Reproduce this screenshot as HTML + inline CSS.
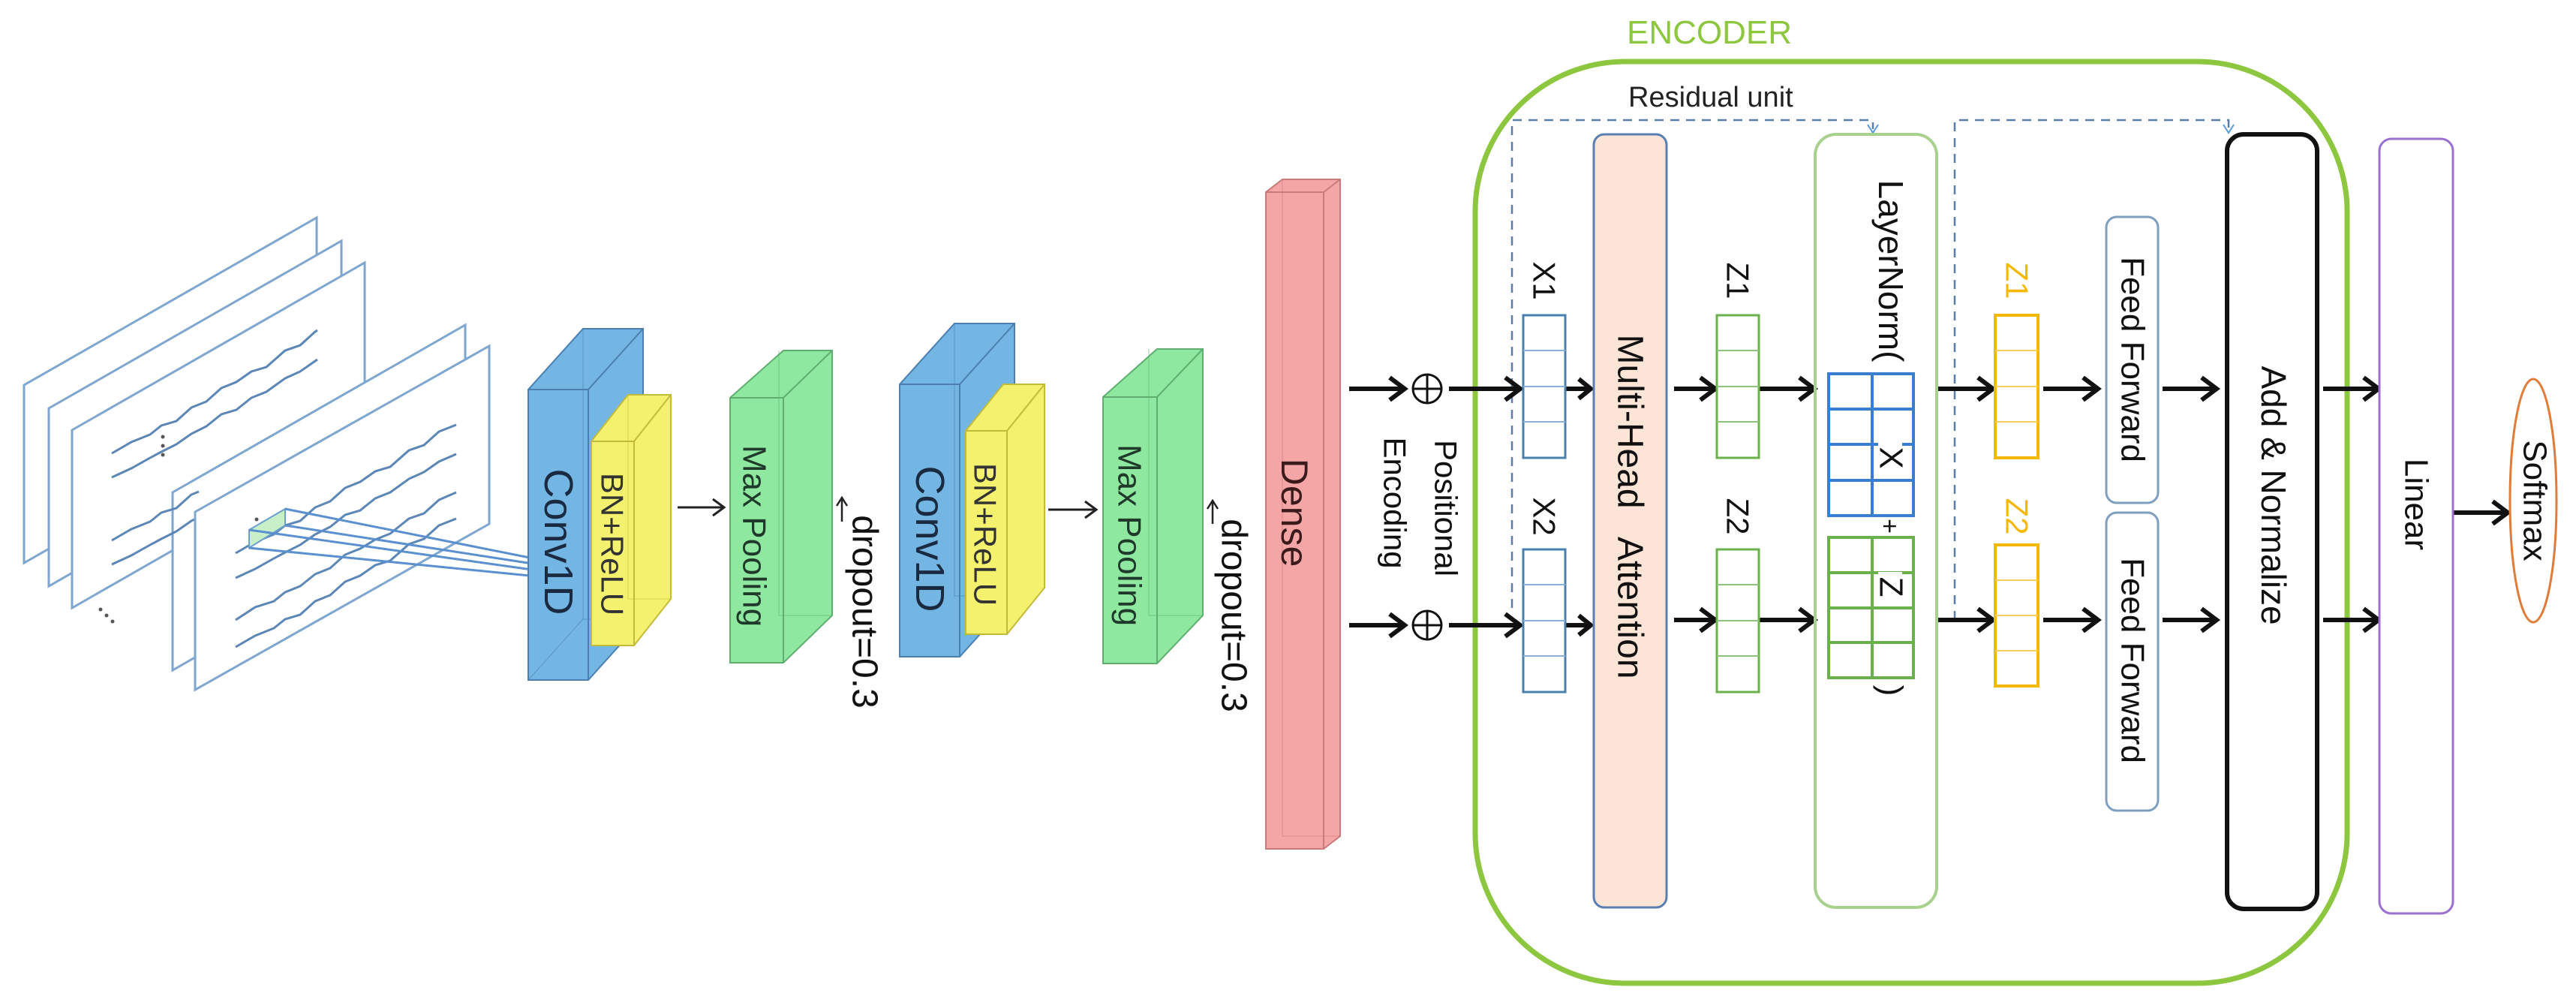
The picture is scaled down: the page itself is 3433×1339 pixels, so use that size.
<!DOCTYPE html>
<html><head><meta charset="utf-8"><style>
html,body{margin:0;padding:0;background:#fff}
svg{display:block}
text{font-family:"Liberation Sans",sans-serif}
</style></head><body>
<svg width="3433" height="1339" viewBox="0 0 3433 1339" xmlns="http://www.w3.org/2000/svg">
<defs>
<marker id="ah" markerWidth="10" markerHeight="10" refX="9" refY="5" orient="auto" markerUnits="userSpaceOnUse" viewBox="0 0 10 10">
</marker>
</defs>

<!-- Input planes -->
<g stroke="#7ea6cf" stroke-width="3" fill="#fff">
<polygon points="32,513 422,290 422,527 32,750"/>
<polygon points="65,544 455,321 455,558 65,781"/>
<polygon points="96,573 486,350 486,587 96,810"/>
</g>
<g stroke="#5b86b5" stroke-width="3" fill="none">
<path d="M149,604 l26,-15 25,-10 15,-12 20,-6 20,-18 20,-8 20,-18 20,-8 20,-14 20,-6 25,-22 20,-7 20,-18 3,-2"/>
<path d="M149,636 l26,-12 25,-14 15,-8 20,-10 20,-14 20,-10 20,-16 20,-6 20,-16 20,-8 25,-18 20,-9 20,-14 3,-2"/>
</g>
<g fill="#555"><circle cx="217" cy="582" r="2.5"/><circle cx="217" cy="594" r="2.5"/><circle cx="217" cy="606" r="2.5"/></g>
<g stroke="#7ea6cf" stroke-width="3" fill="#fff">
<polygon points="230,656 620,433 620,670 230,893"/>
</g>
<g stroke="#5b86b5" stroke-width="3" fill="none">
<path d="M149,720 l26,-15 25,-10 15,-12 20,-6 20,-18 10,-4"/>
<path d="M149,752 l26,-12 25,-14 15,-8 20,-10 20,-14 10,-5"/>
<path d="M262,700 l26,-15 25,-10 15,-12 20,-6 20,-18 20,-8 20,-18 20,-8 20,-14 20,-6 25,-22 20,-7 20,-18 23,-9"/>
</g>
<g fill="#555"><circle cx="134" cy="812" r="2.5"/><circle cx="142" cy="820" r="2.5"/><circle cx="150" cy="828" r="2.5"/></g>
<g stroke="#7ea6cf" stroke-width="3" fill="#fff">
<polygon points="260,682 652,461 652,698 260,919"/>
</g>
<g stroke="#5b86b5" stroke-width="3" fill="none">
<path d="M314,737 l26,-15 25,-10 15,-12 20,-6 20,-18 20,-8 20,-18 20,-8 20,-14 20,-6 25,-22 20,-7 20,-18 23,-9"/>
<path d="M314,770 l26,-12 25,-14 15,-8 20,-10 20,-14 20,-10 20,-16 20,-6 20,-16 20,-8 25,-18 20,-9 20,-14 23,-10"/>
<path d="M314,826 l26,-17 25,-8 15,-12 20,-8 20,-16 20,-8 20,-18 20,-8 20,-12 20,-8 25,-20 20,-7 20,-18 23,-10"/>
<path d="M314,862 l26,-15 25,-10 15,-12 20,-6 20,-18 20,-8 20,-18 20,-8 20,-14 20,-6 25,-22 20,-7 20,-18 23,-9"/>
</g>
<g fill="#555"><circle cx="342" cy="692" r="2.5"/><circle cx="342" cy="704" r="2.5"/><circle cx="342" cy="716" r="2.5"/></g>
<!-- receptive field -->
<polygon points="332,706 380,678 380,700 332,730" fill="#c8efc8" stroke="#6a9fd0" stroke-width="2"/>
<g stroke="#5a8fd0" stroke-width="3" fill="none">
<line x1="380" y1="678" x2="716" y2="745"/>
<line x1="380" y1="700" x2="716" y2="752"/>
<line x1="332" y1="706" x2="716" y2="760"/>
<line x1="332" y1="730" x2="716" y2="768"/>
</g>

<!-- Conv1D #1 -->
<g stroke="#4a7fb0" stroke-width="2">
<polygon points="704,519 777,438 857,438 857,825 784,906 704,906" fill="#74b6e3"/>
<polyline points="704,519 784,519 857,438" fill="none"/>
<line x1="784" y1="519" x2="784" y2="906"/>
<polyline points="777,438 777,825 857,825" fill="none" stroke-width="1" opacity=".6"/>
<line x1="704" y1="906" x2="777" y2="825" stroke-width="1" opacity=".6"/>
</g>
<g stroke="#c2bb3a" stroke-width="2">
<polygon points="788,588 837,526 894,526 894,798 845,860 788,860" fill="#f4f16e"/>
<polyline points="788,588 845,588 894,526" fill="none"/>
<line x1="845" y1="588" x2="845" y2="860"/>
<polyline points="837,526 837,798 894,798" fill="none" stroke-width="1" opacity=".6"/>
</g>
<text transform="translate(744,722) rotate(90)" text-anchor="middle" dominant-baseline="central" font-size="54" fill="#1a2a40">Conv1D</text>
<text transform="translate(816,725) rotate(90)" text-anchor="middle" dominant-baseline="central" font-size="42" fill="#333">BN+ReLU</text>
<g stroke="#222" stroke-width="3" fill="none"><line x1="903" y1="676" x2="964" y2="676"/><polyline points="950,665 965,676 950,687"/></g>

<!-- MaxPool #1 -->
<g stroke="#5fae70" stroke-width="2">
<polygon points="973,530 1044,467 1109,467 1109,820 1044,883 973,883" fill="#8fe8a0" transform="translate(0,0)"/>
<polyline points="973,530 1044,530 1109,467" fill="none"/>
<line x1="1044" y1="530" x2="1044" y2="883"/>
<polyline points="1038,467 1038,820 1109,820" fill="none" stroke-width="1" opacity=".6"/>
</g>
<text transform="translate(1005,714) rotate(90)" text-anchor="middle" dominant-baseline="central" font-size="44" fill="#1f3a2a">Max Pooling</text>
<g stroke="#222" stroke-width="2.5" fill="none"><line x1="1122" y1="695" x2="1122" y2="664"/><polyline points="1115,674 1122,663 1129,674"/></g>
<text transform="translate(1152,815) rotate(90)" text-anchor="middle" dominant-baseline="central" font-size="48" fill="#111">dropout=0.3</text>

<!-- Conv1D #2 -->
<g stroke="#4a7fb0" stroke-width="2">
<polygon points="1199,512 1272,431 1352,431 1352,794 1279,875 1199,875" fill="#74b6e3"/>
<polyline points="1199,512 1279,512 1352,431" fill="none"/>
<line x1="1279" y1="512" x2="1279" y2="875"/>
<polyline points="1272,431 1272,794 1352,794" fill="none" stroke-width="1" opacity=".6"/>
</g>
<g stroke="#c2bb3a" stroke-width="2">
<polygon points="1287,574 1337,512 1392,512 1392,783 1342,845 1287,845" fill="#f4f16e"/>
<polyline points="1287,574 1342,574 1392,512" fill="none"/>
<line x1="1342" y1="574" x2="1342" y2="845"/>
</g>
<text transform="translate(1239,718) rotate(90)" text-anchor="middle" dominant-baseline="central" font-size="54" fill="#1a2a40">Conv1D</text>
<text transform="translate(1313,712) rotate(90)" text-anchor="middle" dominant-baseline="central" font-size="42" fill="#333">BN+ReLU</text>
<g stroke="#222" stroke-width="3" fill="none"><line x1="1397" y1="679" x2="1460" y2="679"/><polyline points="1446,668 1461,679 1446,690"/></g>

<!-- MaxPool #2 -->
<g stroke="#5fae70" stroke-width="2">
<polygon points="1470,529 1542,465 1603,465 1603,820 1542,884 1470,884" fill="#8fe8a0"/>
<polyline points="1470,529 1542,529 1603,465" fill="none"/>
<line x1="1542" y1="529" x2="1542" y2="884"/>
<polyline points="1531,465 1531,820 1603,820" fill="none" stroke-width="1" opacity=".6"/>
</g>
<text transform="translate(1505,713) rotate(90)" text-anchor="middle" dominant-baseline="central" font-size="44" fill="#1f3a2a">Max Pooling</text>
<g stroke="#222" stroke-width="2.5" fill="none"><line x1="1616" y1="698" x2="1616" y2="667"/><polyline points="1609,678 1616,667 1623,678"/></g>
<text transform="translate(1644,820) rotate(90)" text-anchor="middle" dominant-baseline="central" font-size="48" fill="#111">dropout=0.3</text>

<!-- Dense -->
<g stroke="#c97a7a" stroke-width="2">
<polygon points="1687,256 1709,239 1786,239 1786,1114 1764,1131 1687,1131" fill="#f4a6a6"/>
<polyline points="1687,256 1764,256 1786,239" fill="none"/>
<line x1="1764" y1="256" x2="1764" y2="1131"/>
<polyline points="1709,239 1709,1114 1786,1114" fill="none" stroke-width="1" opacity=".6"/>
</g>
<text transform="translate(1725,683) rotate(90)" text-anchor="middle" dominant-baseline="central" font-size="50" fill="#3a1a1a">Dense</text>

<!-- Positional encoding -->
<g stroke="#111" stroke-width="6" fill="none">
<line x1="1798" y1="518" x2="1870" y2="518"/><polyline points="1852,503 1872,518 1852,533"/>
<line x1="1798" y1="833" x2="1870" y2="833"/><polyline points="1852,818 1872,833 1852,848"/>
</g>
<g stroke="#111" stroke-width="3" fill="#fff">
<circle cx="1902" cy="518" r="19"/><line x1="1883" y1="518" x2="1921" y2="518"/><line x1="1902" y1="499" x2="1902" y2="537"/>
<circle cx="1902" cy="833" r="19"/><line x1="1883" y1="833" x2="1921" y2="833"/><line x1="1902" y1="814" x2="1902" y2="852"/>
</g>
<text transform="translate(1927,677) rotate(90)" text-anchor="middle" dominant-baseline="central" font-size="42" fill="#111">Positional</text>
<text transform="translate(1859,670) rotate(90)" text-anchor="middle" dominant-baseline="central" font-size="42" fill="#111">Encoding</text>

<!-- Encoder -->
<text x="2168" y="58" font-size="44" fill="#8dc63f">ENCODER</text>
<rect x="1966" y="82" width="1162" height="1228" rx="200" ry="200" fill="none" stroke="#8dc63f" stroke-width="7"/>
<text x="2170" y="142" font-size="38" fill="#222">Residual unit</text>

<!-- dashed residuals -->
<g stroke="#5b7ea8" stroke-width="2.5" stroke-dasharray="12,9" fill="none">
<polyline points="2015,810 2015,160 2496,160 2496,172"/>
<polyline points="2605,826 2605,160 2970,160 2970,172"/>
</g>
<g stroke="#5b9bd5" stroke-width="2" fill="none"><polyline points="2489,166 2496,177 2503,166"/><polyline points="2963,166 2970,177 2977,166"/></g>

<!-- arrows in encoder -->
<g stroke="#111" stroke-width="6" fill="none">
<line x1="1931" y1="518" x2="2022" y2="518"/><polyline points="2006,503 2026,518 2006,533"/>
<line x1="1931" y1="833" x2="2022" y2="833"/><polyline points="2006,818 2026,833 2006,848"/>
<line x1="2086" y1="518" x2="2118" y2="518"/><polyline points="2104,505 2120,518 2104,531"/>
<line x1="2086" y1="833" x2="2118" y2="833"/><polyline points="2104,820 2120,833 2104,846"/>
<line x1="2231" y1="518" x2="2282" y2="518"/><polyline points="2266,503 2286,518 2266,533"/>
<line x1="2231" y1="826" x2="2282" y2="826"/><polyline points="2266,811 2286,826 2266,841"/>
<line x1="2345" y1="518" x2="2414" y2="518"/><polyline points="2398,503 2418,518 2398,533"/>
<line x1="2345" y1="826" x2="2414" y2="826"/><polyline points="2398,811 2418,826 2398,841"/>
<line x1="2581" y1="518" x2="2652" y2="518"/><polyline points="2636,503 2656,518 2636,533"/>
<line x1="2581" y1="826" x2="2652" y2="826"/><polyline points="2636,811 2656,826 2636,841"/>
<line x1="2723" y1="518" x2="2792" y2="518"/><polyline points="2776,503 2796,518 2776,533"/>
<line x1="2723" y1="826" x2="2792" y2="826"/><polyline points="2776,811 2796,826 2776,841"/>
<line x1="2882" y1="518" x2="2950" y2="518"/><polyline points="2934,503 2954,518 2934,533"/>
<line x1="2882" y1="826" x2="2950" y2="826"/><polyline points="2934,811 2954,826 2934,841"/>
<line x1="3096" y1="518" x2="3166" y2="518"/><polyline points="3150,503 3170,518 3150,533"/>
<line x1="3096" y1="826" x2="3166" y2="826"/><polyline points="3150,811 3170,826 3150,841"/>
<line x1="3270" y1="683" x2="3338" y2="683"/><polyline points="3322,668 3342,683 3322,698"/>
</g>

<!-- X1 / X2 -->
<g fill="#fff" stroke="#4a7fb0" stroke-width="3">
<rect x="2030" y="420" width="56" height="190"/><rect x="2030" y="732" width="56" height="190"/>
</g>
<g stroke="#8ab0d8" stroke-width="2">
<line x1="2030" y1="467" x2="2086" y2="467"/><line x1="2030" y1="515" x2="2086" y2="515"/><line x1="2030" y1="562" x2="2086" y2="562"/>
<line x1="2030" y1="779" x2="2086" y2="779"/><line x1="2030" y1="827" x2="2086" y2="827"/><line x1="2030" y1="874" x2="2086" y2="874"/>
</g>
<text transform="translate(2058,374) rotate(90)" text-anchor="middle" dominant-baseline="central" font-size="42" fill="#111">X1</text>
<text transform="translate(2058,688) rotate(90)" text-anchor="middle" dominant-baseline="central" font-size="42" fill="#111">X2</text>

<!-- Multi-Head -->
<rect x="2124" y="179" width="97" height="1030" rx="14" fill="#fce4d6" stroke="#5a7fb0" stroke-width="3"/>
<text transform="translate(2172,675) rotate(90)" text-anchor="middle" dominant-baseline="central" font-size="48" fill="#111" xml:space="preserve">Multi-Head   Attention</text>

<!-- Z1 / Z2 -->
<g fill="#fff" stroke="#6ab04c" stroke-width="3">
<rect x="2288" y="420" width="56" height="190"/><rect x="2288" y="732" width="56" height="190"/>
</g>
<g stroke="#8cc47a" stroke-width="2">
<line x1="2288" y1="467" x2="2344" y2="467"/><line x1="2288" y1="515" x2="2344" y2="515"/><line x1="2288" y1="562" x2="2344" y2="562"/>
<line x1="2288" y1="779" x2="2344" y2="779"/><line x1="2288" y1="827" x2="2344" y2="827"/><line x1="2288" y1="874" x2="2344" y2="874"/>
</g>
<text transform="translate(2316,374) rotate(90)" text-anchor="middle" dominant-baseline="central" font-size="42" fill="#111">Z1</text>
<text transform="translate(2316,688) rotate(90)" text-anchor="middle" dominant-baseline="central" font-size="42" fill="#111">Z2</text>

<!-- LayerNorm -->
<rect x="2419" y="179" width="162" height="1030" rx="28" fill="none" stroke="#a9d18e" stroke-width="4"/>
<text transform="translate(2520,361) rotate(90)" text-anchor="middle" dominant-baseline="central" font-size="46" fill="#111">LayerNorm(</text>
<g fill="none" stroke="#3a7fcf" stroke-width="4">
<rect x="2437" y="498" width="113" height="189"/>
<line x1="2495" y1="498" x2="2495" y2="687"/>
<line x1="2437" y1="545" x2="2550" y2="545"/><line x1="2437" y1="592" x2="2550" y2="592"/><line x1="2437" y1="640" x2="2550" y2="640"/>
</g>
<g fill="none" stroke="#6ab04c" stroke-width="4">
<rect x="2437" y="716" width="113" height="187"/>
<line x1="2495" y1="716" x2="2495" y2="903"/>
<line x1="2437" y1="763" x2="2550" y2="763"/><line x1="2437" y1="810" x2="2550" y2="810"/><line x1="2437" y1="856" x2="2550" y2="856"/>
</g>
<rect x="2503" y="590" width="32" height="40" fill="#fff"/>
<text transform="translate(2520,610) rotate(90)" text-anchor="middle" dominant-baseline="central" font-size="44" fill="#111">X</text>
<rect x="2503" y="762" width="32" height="40" fill="#fff"/>
<text transform="translate(2520,782) rotate(90)" text-anchor="middle" dominant-baseline="central" font-size="44" fill="#111">Z</text>
<text transform="translate(2518,701) rotate(90)" text-anchor="middle" dominant-baseline="central" font-size="34" fill="#111">+</text>
<text transform="translate(2520,920) rotate(90)" text-anchor="middle" dominant-baseline="central" font-size="44" fill="#111">)</text>

<!-- yellow Z -->
<g fill="#fff" stroke="#f5b800" stroke-width="4">
<rect x="2659" y="420" width="57" height="190"/><rect x="2659" y="726" width="57" height="188"/>
</g>
<g stroke="#f7cf5a" stroke-width="2">
<line x1="2659" y1="467" x2="2716" y2="467"/><line x1="2659" y1="515" x2="2716" y2="515"/><line x1="2659" y1="562" x2="2716" y2="562"/>
<line x1="2659" y1="773" x2="2716" y2="773"/><line x1="2659" y1="820" x2="2716" y2="820"/><line x1="2659" y1="867" x2="2716" y2="867"/>
</g>
<text transform="translate(2688,374) rotate(90)" text-anchor="middle" dominant-baseline="central" font-size="42" fill="#f5b800">Z1</text>
<text transform="translate(2688,688) rotate(90)" text-anchor="middle" dominant-baseline="central" font-size="42" fill="#f5b800">Z2</text>

<!-- Feed Forward -->
<rect x="2807" y="289" width="69" height="381" rx="14" fill="#fff" stroke="#7f9fbf" stroke-width="3"/>
<rect x="2807" y="683" width="69" height="397" rx="14" fill="#fff" stroke="#7f9fbf" stroke-width="3"/>
<text transform="translate(2842,479) rotate(90)" text-anchor="middle" dominant-baseline="central" font-size="44" fill="#111">Feed Forward</text>
<text transform="translate(2842,880) rotate(90)" text-anchor="middle" dominant-baseline="central" font-size="44" fill="#111">Feed Forward</text>

<!-- Add & Normalize -->
<rect x="2968" y="179" width="120" height="1032" rx="22" fill="#fff" stroke="#111" stroke-width="6"/>
<text transform="translate(3030,660) rotate(90)" text-anchor="middle" dominant-baseline="central" font-size="46" fill="#111">Add &amp; Normalize</text>

<!-- Linear -->
<rect x="3171" y="185" width="98" height="1032" rx="16" fill="#fff" stroke="#9b6fd0" stroke-width="3"/>
<text transform="translate(3220,672) rotate(90)" text-anchor="middle" dominant-baseline="central" font-size="44" fill="#111">Linear</text>

<!-- Softmax -->
<ellipse cx="3376" cy="667" rx="31" ry="162" fill="#fff" stroke="#e07b39" stroke-width="3"/>
<text transform="translate(3378,667) rotate(90)" text-anchor="middle" dominant-baseline="central" font-size="44" fill="#111">Softmax</text>
</svg>
</body></html>
